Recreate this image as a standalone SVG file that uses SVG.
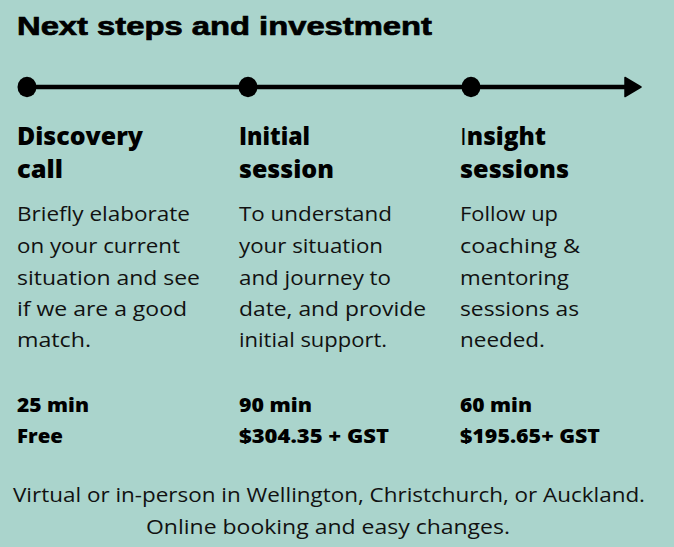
<svg xmlns="http://www.w3.org/2000/svg" width="674" height="547" viewBox="0 0 674 547">
<style>
.title{font-family:"Liberation Sans",Arial,sans-serif;font-weight:bold;font-size:26px;fill:#000;stroke:#000;stroke-width:0.7}
.head{font-family:"Open Sans","Noto Sans",sans-serif;font-weight:800;font-size:24px;fill:#000}
.body{font-family:"Open Sans","Noto Sans",sans-serif;font-size:20px;fill:#111}
.price{font-family:"Open Sans","Noto Sans",sans-serif;font-weight:800;font-size:19px;fill:#000}
.foot{font-family:"Open Sans","Noto Sans",sans-serif;font-size:19.5px;fill:#111}
.line{stroke:#000;stroke-width:4.5;fill:none}
.dot{fill:#000}
</style>
<rect x="0" y="0" width="674" height="547" fill="#aad4cc"/>
<text class="title" x="17" y="35" textLength="415" lengthAdjust="spacingAndGlyphs">Next steps and investment</text>
<g id="connectors">
<line class="line" x1="27" y1="87" x2="628" y2="87"/>
<path d="M625,77.5 L641,87 L625,96.5 Z" fill="#000" stroke="#000" stroke-width="1.5" stroke-linejoin="round"/>
</g>
<g id="step1">
<ellipse class="dot" cx="27" cy="87" rx="9.5" ry="10.2"/>
<text class="head" x="17" y="145" textLength="126" lengthAdjust="spacingAndGlyphs">Discovery</text>
<text class="head" x="17" y="178" textLength="46" lengthAdjust="spacingAndGlyphs">call</text>
<text class="body" x="17" y="221" textLength="173" lengthAdjust="spacingAndGlyphs">Briefly elaborate</text>
<text class="body" x="17" y="253" textLength="163" lengthAdjust="spacingAndGlyphs">on your current</text>
<text class="body" x="17" y="284.5" textLength="183" lengthAdjust="spacingAndGlyphs">situation and see</text>
<text class="body" x="17" y="316" textLength="170" lengthAdjust="spacingAndGlyphs">if we are a good</text>
<text class="body" x="17" y="347" textLength="74" lengthAdjust="spacingAndGlyphs">match.</text>
<text class="price" x="17" y="411.5" textLength="72" lengthAdjust="spacingAndGlyphs">25 min</text>
<text class="price" x="17" y="443" textLength="46" lengthAdjust="spacingAndGlyphs">Free</text>
</g>
<g id="step2">
<ellipse class="dot" cx="248" cy="87" rx="9.5" ry="10.2"/>
<text class="head" x="239" y="145" textLength="71" lengthAdjust="spacingAndGlyphs">Initial</text>
<text class="head" x="239" y="178" textLength="95" lengthAdjust="spacingAndGlyphs">session</text>
<text class="body" x="239" y="221" textLength="153" lengthAdjust="spacingAndGlyphs">To understand</text>
<text class="body" x="239" y="253" textLength="144" lengthAdjust="spacingAndGlyphs">your situation</text>
<text class="body" x="239" y="284.5" textLength="152" lengthAdjust="spacingAndGlyphs">and journey to</text>
<text class="body" x="239" y="316" textLength="187" lengthAdjust="spacingAndGlyphs">date, and provide</text>
<text class="body" x="239" y="347" textLength="148" lengthAdjust="spacingAndGlyphs">initial support.</text>
<text class="price" x="239" y="411.5" textLength="73" lengthAdjust="spacingAndGlyphs">90 min</text>
<text class="price" x="239" y="443" textLength="150" lengthAdjust="spacingAndGlyphs">$304.35 + GST</text>
</g>
<g id="step3">
<ellipse class="dot" cx="471" cy="87" rx="9.5" ry="10.2"/>
<text class="head" x="460" y="145" textLength="86" lengthAdjust="spacingAndGlyphs"><tspan font-weight="normal">I</tspan>nsight</text>
<text class="head" x="460" y="178" textLength="109" lengthAdjust="spacingAndGlyphs">sessions</text>
<text class="body" x="460" y="221" textLength="98" lengthAdjust="spacingAndGlyphs">Follow up</text>
<text class="body" x="460" y="253" textLength="120" lengthAdjust="spacingAndGlyphs">coaching &amp;</text>
<text class="body" x="460" y="284.5" textLength="109" lengthAdjust="spacingAndGlyphs">mentoring</text>
<text class="body" x="460" y="316" textLength="119" lengthAdjust="spacingAndGlyphs">sessions as</text>
<text class="body" x="460" y="347" textLength="85" lengthAdjust="spacingAndGlyphs">needed.</text>
<text class="price" x="460" y="411.5" textLength="72" lengthAdjust="spacingAndGlyphs">60 min</text>
<text class="price" x="460" y="443" textLength="140" lengthAdjust="spacingAndGlyphs">$195.65+ GST</text>
</g>
<g id="footer">
<text class="foot" x="13" y="501.5" textLength="632" lengthAdjust="spacingAndGlyphs">Virtual or in-person in Wellington, Christchurch, or Auckland.</text>
<text class="foot" x="146" y="533.5" textLength="364" lengthAdjust="spacingAndGlyphs">Online booking and easy changes.</text>
</g>
</svg>
